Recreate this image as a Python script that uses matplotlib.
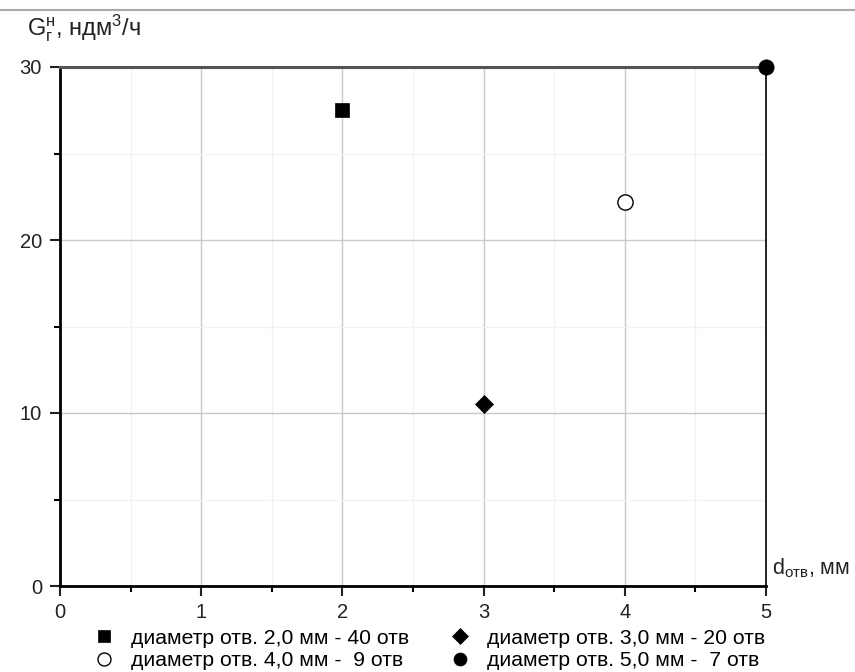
import matplotlib
matplotlib.use("Agg")
import matplotlib.pyplot as plt
from matplotlib.lines import Line2D
from matplotlib.ticker import MultipleLocator

plt.rcParams['font.family'] = ['Liberation Sans', 'DejaVu Sans']
plt.rcParams['mathtext.fontset'] = 'custom'
plt.rcParams['mathtext.rm'] = 'Liberation Sans'
plt.rcParams['mathtext.it'] = 'Liberation Sans'

# data
d_otv = [2, 3, 4, 5]
g_val = [27.5, 10.5, 22.2, 30.0]
labels = ['диаметр отв. 2,0 мм - 40 отв',
          'диаметр отв. 3,0 мм - 20 отв',
          'диаметр отв. 4,0 мм -  9 отв',
          'диаметр отв. 5,0 мм -  7 отв']
markers = ['s', 'D', 'o', 'o']
faces = ['black', 'black', 'white', 'black']
sizes = [10, 9, 11, 11]

fig = plt.figure(figsize=(8.55, 6.72), dpi=100)
ax = fig.add_axes([60/855, 1-586/672, 706/855, 519/672])

handles = []
for x, y, m, fc, s, lab in zip(d_otv, g_val, markers, faces, sizes, labels):
    h, = ax.plot([x], [y], ls='none', marker=m, ms=s, mfc=fc, mec='black',
                 mew=1.0 if fc == 'white' else 0.5, label=lab, clip_on=False, zorder=5)
    handles.append(h)

ax.set_xlim(0, 5)
ax.set_ylim(0, 30)
ax.xaxis.set_major_locator(MultipleLocator(1))
ax.xaxis.set_minor_locator(MultipleLocator(0.5))
ax.yaxis.set_major_locator(MultipleLocator(10))
ax.yaxis.set_minor_locator(MultipleLocator(5))

ax.grid(which='major', color='#c8c8c8', lw=1.0)
ax.grid(which='minor', color='#f2f2f2', lw=1.0)
ax.set_axisbelow(True)

ax.spines['left'].set_linewidth(2.0)
ax.spines['bottom'].set_linewidth(2.0)
ax.spines['right'].set_linewidth(1.2)
ax.spines['top'].set_linewidth(2.2)
ax.spines['top'].set_color('#555555')

ax.tick_params(which='major', direction='out', length=7, width=1.5,
               labelsize=14.5, colors='#222222')
ax.tick_params(axis='x', which='major', pad=5)
ax.tick_params(axis='y', which='major', pad=6)
ax.tick_params(which='minor', direction='out', length=4, width=1.5)
ax.tick_params(top=False, right=False, which='both')

fig.text(27/855, 1-28/672, r'G$_{\mathregular{г}}^{\mathregular{н}}$, ндм$^{\mathregular{3}}$/ч',
         fontsize=17, ha='left', va='center', color='#222222')
fig.text(772/855, 1-568/672, r'd$_{\mathregular{отв}}$, мм',
         fontsize=15.5, ha='left', va='center', color='#222222')

order = [0, 2, 1, 3]
fig.legend([handles[i] for i in order], [labels[i] for i in order],
           loc='lower left', bbox_to_anchor=(91/855, 0.0), ncol=2, frameon=False,
           fontsize=15.2, markerscale=0.85, handletextpad=0.8, columnspacing=1.9,
           labelspacing=0.15, handlelength=1.0, borderpad=0.1, borderaxespad=0)

fig.add_artist(Line2D([0, 1], [1-10/672, 1-10/672], color='#aaaaaa', lw=1.5,
                      transform=fig.transFigure))

fig.savefig('out.png', dpi=100)
